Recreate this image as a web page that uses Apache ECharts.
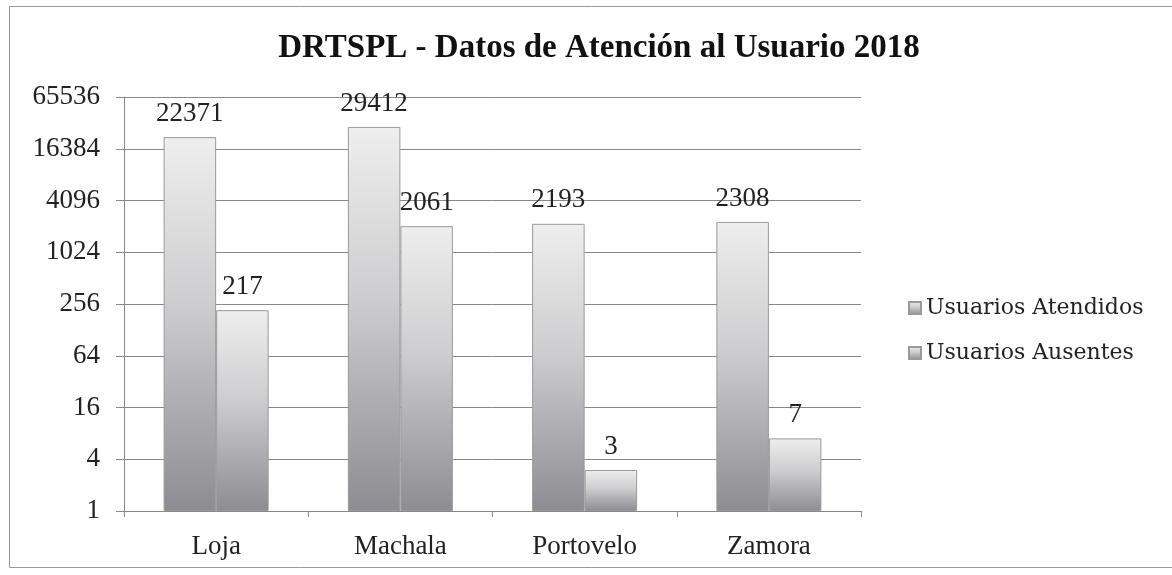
<!DOCTYPE html>
<html><head><meta charset="utf-8">
<script src="https://cdn.jsdelivr.net/npm/echarts@6/dist/echarts.min.js"></script>
<style>html,body{margin:0;padding:0;background:#fff}#c{width:1172px;height:575px}</style>
</head><body><div id="c"></div>
<script>
const categories = ['Loja', 'Machala', 'Portovelo', 'Zamora'];
const atendidos = [22371, 29412, 2193, 2308];
const ausentes = [217, 2061, 3, 7];
const seriesNames = ['Usuarios Atendidos', 'Usuarios Ausentes'];
const titleText = 'DRTSPL - Datos de Atención al Usuario 2018';

const FONT = '"Liberation Serif", "DejaVu Serif", serif';
function grad() {
  return new echarts.graphic.LinearGradient(0, 0, 0, 1, [
    {offset: 0, color: '#eeeeee'},
    {offset: 0.45, color: '#cdcdcf'},
    {offset: 1, color: '#8c8c92'}
  ]);
}
const chart = echarts.init(document.getElementById('c'));
const labelOpt = {show: true, position: 'top', distance: 10, color: '#222', fontFamily: FONT, fontSize: 27};
chart.setOption({
  animation: false,
  backgroundColor: '#fff',
  title: {text: titleText, left: 594, top: 27, textAlign: 'center',
    textStyle: {fontFamily: FONT, fontWeight: 'bold', fontSize: 33, color: '#111'}},
  legend: {orient: 'vertical', left: 903, top: 292, itemGap: 23, itemWidth: 12, itemHeight: 12,
    icon: 'rect', data: seriesNames,
    textStyle: {fontFamily: '"DejaVu Serif", serif', fontSize: 22, color: '#222'}},
  grid: {left: 124, right: 311, top: 97, bottom: 64},
  xAxis: {type: 'category', data: categories,
    axisLine: {lineStyle: {color: '#888'}},
    axisTick: {show: true, length: 6, lineStyle: {color: '#888'}},
    axisLabel: {margin: 22, fontFamily: FONT, fontSize: 27, color: '#222'}},
  yAxis: {type: 'log', logBase: 4, min: 1, max: 65536, interval: 1,
    axisLine: {show: true, lineStyle: {color: '#888'}},
    axisTick: {show: true, inside: false, length: 8, lineStyle: {color: '#888'}},
    splitLine: {lineStyle: {color: '#888'}},
    axisLabel: {margin: 24, fontFamily: FONT, fontSize: 27, color: '#222',
      formatter: function (v) { return String(Math.round(v)); }}},
  series: [
    {name: seriesNames[0], type: 'bar', data: atendidos, barGap: '0%', barCategoryGap: '43%',
      itemStyle: {color: grad(), borderColor: '#9a9a9a', borderWidth: 1}, label: labelOpt},
    {name: seriesNames[1], type: 'bar', data: ausentes,
      itemStyle: {color: grad(), borderColor: '#9a9a9a', borderWidth: 1}, label: labelOpt}
  ],
  graphic: [{type: 'rect', shape: {x: 9.5, y: 6.5, width: 1170, height: 561},
    style: {fill: null, stroke: '#999', lineWidth: 1}, silent: true}]
});
</script></body></html>
